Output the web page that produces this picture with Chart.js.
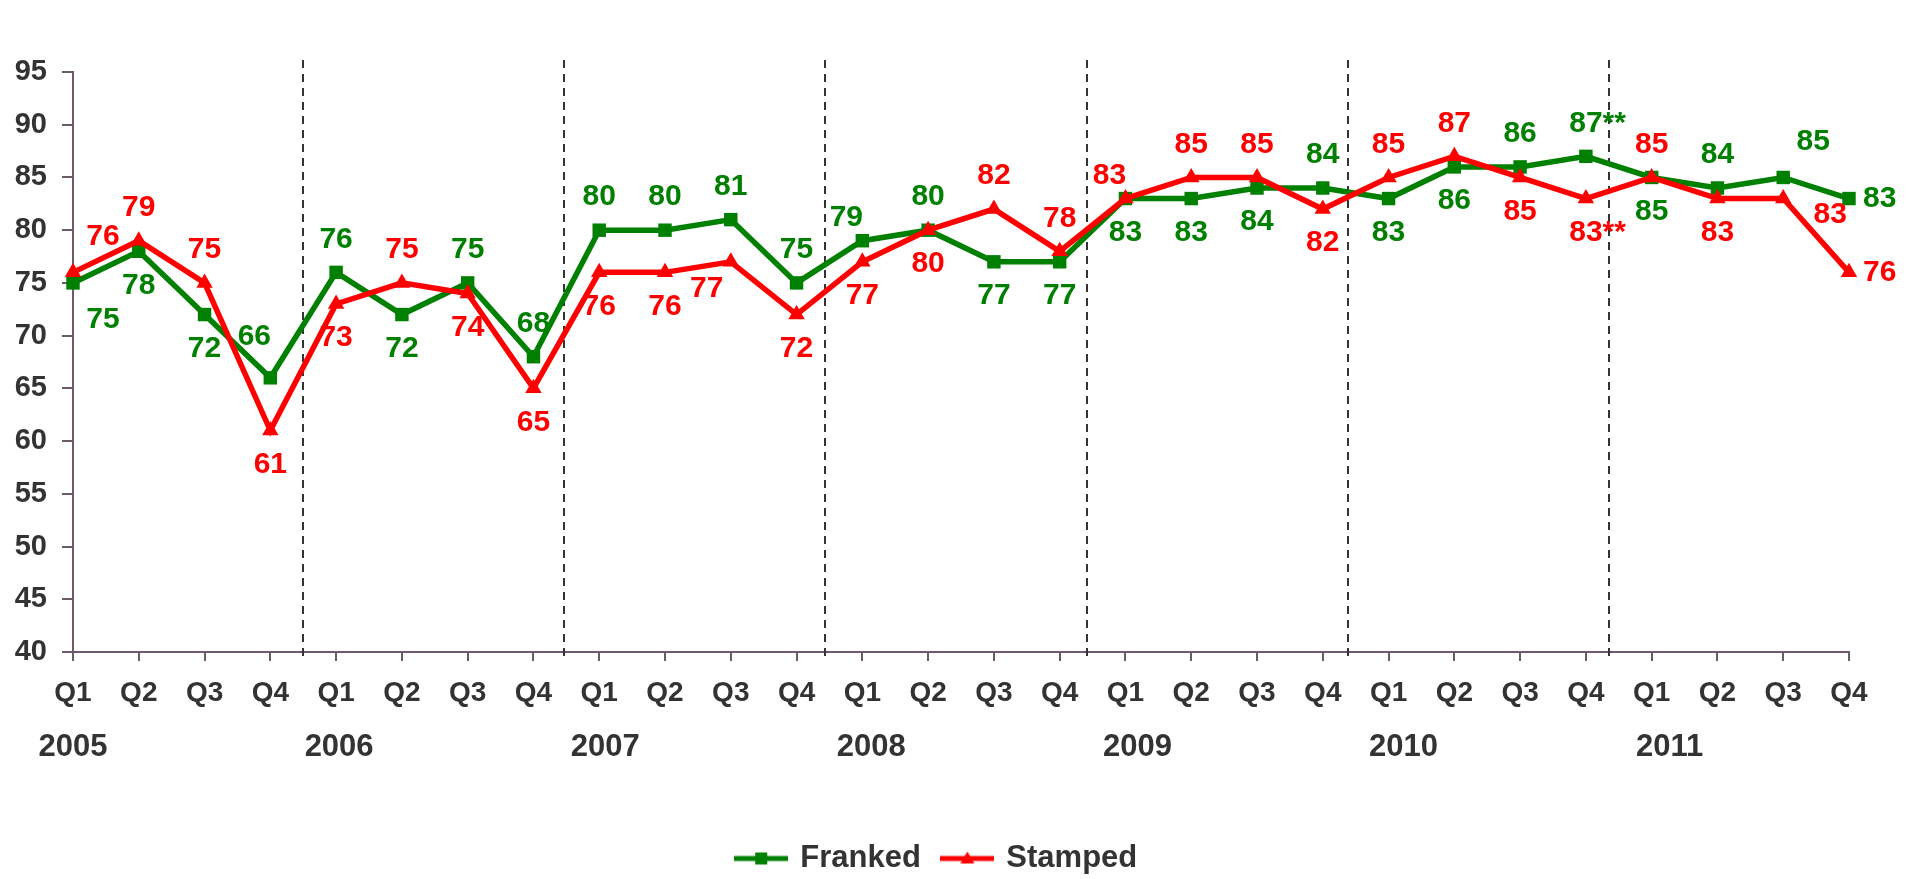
<!DOCTYPE html>
<html>
<head>
<meta charset="utf-8">
<script src="https://cdn.jsdelivr.net/npm/chart.js@4.4.0/dist/chart.umd.min.js"></script>
<style>
  html, body { margin: 0; padding: 0; background: #fff; }
</style>
</head>
<body>
<canvas id="qualityChart" width="1915" height="879"></canvas>
<script>
const quarters = ['Q1', 'Q2', 'Q3', 'Q4', 'Q1', 'Q2', 'Q3', 'Q4', 'Q1', 'Q2', 'Q3', 'Q4', 'Q1', 'Q2',
                  'Q3', 'Q4', 'Q1', 'Q2', 'Q3', 'Q4', 'Q1', 'Q2', 'Q3', 'Q4', 'Q1', 'Q2', 'Q3', 'Q4'];
const years = ['2005', '2006', '2007', '2008', '2009', '2010', '2011'];
const yTicks = [40, 45, 50, 55, 60, 65, 70, 75, 80, 85, 90, 95];

const franked = [75, 78, 72, 66, 76, 72, 75, 68, 80, 80, 81, 75, 79, 80,
                 77, 77, 83, 83, 84, 84, 83, 86, 86, 87, 85, 84, 85, 83];
const stamped = [76, 79, 75, 61, 73, 75, 74, 65, 76, 76, 77, 72, 77, 80,
                 82, 78, 83, 85, 85, 82, 85, 87, 85, 83, 85, 83, 83, 76];

// Q4 2010 values carry a footnote mark
const noteIndex = 23;
const noteMark = '**';

// where each value label sits relative to its point
const frankedLabelPos = ['br', 'b', 'b', 'aL', 'a', 'b', 'a', 'a', 'a', 'a', 'a', 'a', 'al', 'a',
                         'b', 'b', 'b', 'b', 'b', 'a', 'b', 'b', 'a', 'a', 'b', 'a', 'ar', 'r'];
const stampedLabelPos = ['ar', 'a', 'a', 'b', 'b', 'a', 'b', 'b', 'b', 'b', 'bl', 'b', 'b', 'b',
                         'a', 'a', 'al', 'a', 'a', 'b', 'a', 'a', 'b', 'b', 'a', 'b', 'rb', 'r'];

const GREEN = '#008000';
const RED = '#ff0000';
const AXIS = '#6e5a6b';
const TEXT = '#333333';
const FONT = "'Liberation Sans', Arial, sans-serif";

const offsets = {
    a: [0, -33], b: [0, 34], ar: [30, -36], br: [30, 37], al: [-16, -23],
    aL: [-16, -41], bl: [-24, 27], rb: [47, 16], r: [14, 0]
};

function legendIcon(color, style) {
    const c = document.createElement('canvas');
    c.width = 54;
    c.height = 18;
    const g = c.getContext('2d');
    g.strokeStyle = color;
    g.lineWidth = 5;
    g.beginPath();
    g.moveTo(0, 9);
    g.lineTo(54, 9);
    g.stroke();
    g.fillStyle = color;
    if (style === 'rect') {
        g.fillRect(21, 3, 12, 12);
    } else {
        g.beginPath();
        g.moveTo(27, 2);
        g.lineTo(34, 14);
        g.lineTo(20, 14);
        g.closePath();
        g.fill();
    }
    return c;
}
const legendIcons = [legendIcon(GREEN, 'rect'), legendIcon(RED, 'triangle')];

const overlay = {
    id: 'overlay',
    afterLayout(chart) {
        // nudge the legend block a little right, as in the original
        chart.legend.left += 13;
        chart.legend.right += 13;
    },
    beforeDatasetsDraw(chart) {
        const ctx = chart.ctx;
        const x = chart.scales.x;
        const area = chart.chartArea;
        ctx.save();
        ctx.strokeStyle = '#333';
        ctx.lineWidth = 2;
        ctx.setLineDash([8, 6]);
        for (let i = 1; i < years.length; i++) {
            const px = Math.round(x.getPixelForValue(i * 4 - 0.5)) - 2 * (i - 1);
            ctx.beginPath();
            ctx.moveTo(px, area.top - 12);
            ctx.lineTo(px, area.bottom + 8);
            ctx.stroke();
        }
        ctx.restore();
    },
    afterDatasetsDraw(chart) {
        const ctx = chart.ctx;
        const posLists = [frankedLabelPos, stampedLabelPos];
        const colors = [GREEN, RED];
        ctx.save();
        ctx.font = 'bold 30px ' + FONT;
        ctx.textBaseline = 'middle';
        ctx.textAlign = 'left';
        chart.data.datasets.forEach((ds, di) => {
            const meta = chart.getDatasetMeta(di);
            ctx.fillStyle = colors[di];
            meta.data.forEach((pt, i) => {
                const num = String(ds.data[i]);
                const txt = i === noteIndex ? num + noteMark : num;
                const code = posLists[di][i];
                const [dx, dy] = offsets[code];
                const w = ctx.measureText(num).width;
                const left = code === 'r' ? pt.x + dx : pt.x + dx - w / 2;
                ctx.fillText(txt, left, pt.y + dy);
            });
        });
        ctx.restore();
    },
    afterDraw(chart) {
        const ctx = chart.ctx;
        const x = chart.scales.x;
        ctx.save();
        ctx.font = 'bold 31px ' + FONT;
        ctx.fillStyle = TEXT;
        ctx.textAlign = 'center';
        ctx.textBaseline = 'middle';
        years.forEach((yr, i) => {
            ctx.fillText(yr, x.getPixelForValue(i * 4) + 3 * i, x.top + 95);
        });
        ctx.restore();
    }
};

new Chart(document.getElementById('qualityChart').getContext('2d'), {
    type: 'line',
    data: {
        labels: quarters,
        datasets: [{
            label: 'Franked',
            data: franked,
            borderColor: GREEN,
            backgroundColor: GREEN,
            borderWidth: 5.5,
            pointStyle: 'rect',
            pointRadius: 9.5,
            pointBorderWidth: 0,
            tension: 0,
            order: 1,
            clip: false
        }, {
            label: 'Stamped',
            data: stamped,
            borderColor: RED,
            backgroundColor: RED,
            borderWidth: 5.5,
            pointStyle: 'triangle',
            pointRadius: 9.5,
            pointBorderWidth: 0,
            tension: 0,
            order: 0,
            clip: false
        }]
    },
    options: {
        responsive: false,
        animation: false,
        events: [],
        layout: {
            padding: { top: 72, right: 66, left: 0, bottom: -5 }
        },
        plugins: {
            tooltip: { enabled: false },
            legend: {
                display: true,
                position: 'bottom',
                labels: {
                    usePointStyle: true,
                    pointStyleWidth: 47,
                    padding: 23,
                    color: TEXT,
                    font: { family: FONT, size: 31, weight: 'bold' },
                    sort: (a, b) => a.datasetIndex - b.datasetIndex,
                    generateLabels: (chart) => {
                        const items = Chart.defaults.plugins.legend.labels.generateLabels(chart);
                        items.forEach(it => { it.pointStyle = legendIcons[it.datasetIndex]; });
                        return items;
                    }
                }
            }
        },
        scales: {
            x: {
                offset: false,
                afterFit: (scale) => { scale.height = 168; },
                grid: {
                    drawOnChartArea: false,
                    offset: false,
                    color: AXIS,
                    lineWidth: 2,
                    tickLength: 9
                },
                border: { color: AXIS, width: 2 },
                ticks: {
                    autoSkip: false,
                    maxRotation: 0,
                    padding: 15,
                    color: TEXT,
                    font: { family: FONT, size: 28, weight: 'bold' }
                }
            },
            y: {
                min: 40,
                max: 95,
                afterFit: (scale) => { scale.width = 73; },
                afterBuildTicks: (scale) => { scale.ticks = yTicks.map(v => ({ value: v })); },
                grid: {
                    drawOnChartArea: false,
                    color: AXIS,
                    lineWidth: 2,
                    tickLength: 11
                },
                border: { color: AXIS, width: 2 },
                ticks: {
                    padding: 15,
                    color: TEXT,
                    font: { family: FONT, size: 29, weight: 'bold' }
                }
            }
        }
    },
    plugins: [overlay]
});
</script>
</body>
</html>
